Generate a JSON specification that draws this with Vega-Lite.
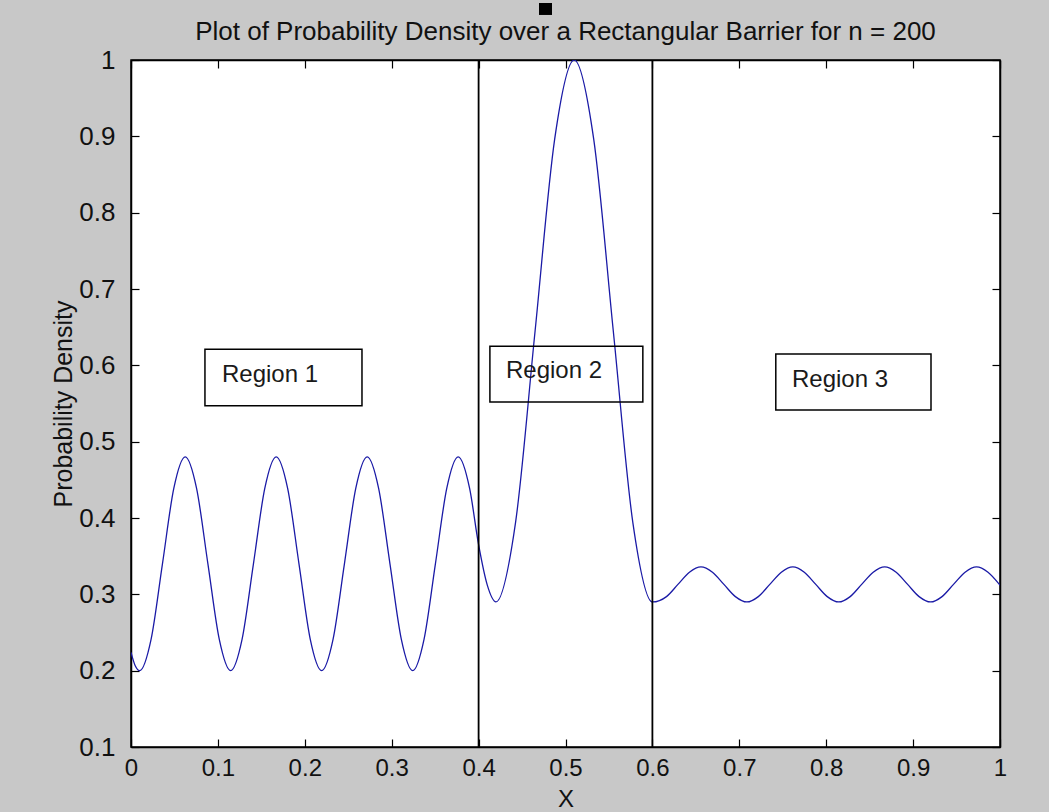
{
  "$schema": "https://vega.github.io/schema/vega-lite/v6.json",
  "width": 869,
  "height": 687,
  "autosize": {"type": "none"},
  "padding": {"left": 131, "top": 60, "right": 49, "bottom": 65},
  "background": "#c8c8c8",
  "view": {"fill": "white", "stroke": "black", "strokeWidth": 1.5},
  "config": {"font": "Liberation Sans"},
  "title": {"text": "Plot of Probability Density over a Rectangular Barrier for n = 200", "fontSize": 26, "fontWeight": "normal", "color": "#111111", "font": "Liberation Sans", "baseline": "alphabetic", "offset": -63, "anchor": "middle"},
  "datasets": {
    "curve": [
      {"x": 0, "y": 0.224}, {"x": 0.005, "y": 0.206}, {"x": 0.01, "y": 0.2}, {"x": 0.0231, "y": 0.241}, {"x": 0.0362, "y": 0.34}, {"x": 0.0493, "y": 0.439}, {"x": 0.0624, "y": 0.48}, {"x": 0.0754, "y": 0.439}, {"x": 0.0885, "y": 0.34}, {"x": 0.1016, "y": 0.241}, {"x": 0.1147, "y": 0.2}, {"x": 0.1278, "y": 0.241}, {"x": 0.1409, "y": 0.34}, {"x": 0.154, "y": 0.439}, {"x": 0.1671, "y": 0.48}, {"x": 0.1802, "y": 0.439}, {"x": 0.1933, "y": 0.34}, {"x": 0.2063, "y": 0.241}, {"x": 0.2194, "y": 0.2}, {"x": 0.2325, "y": 0.241}, {"x": 0.2456, "y": 0.34}, {"x": 0.2587, "y": 0.439}, {"x": 0.2718, "y": 0.48}, {"x": 0.2849, "y": 0.439}, {"x": 0.298, "y": 0.34}, {"x": 0.3111, "y": 0.241}, {"x": 0.3242, "y": 0.2}, {"x": 0.3372, "y": 0.241}, {"x": 0.3503, "y": 0.34}, {"x": 0.3634, "y": 0.439}, {"x": 0.3765, "y": 0.48}, {"x": 0.3896, "y": 0.439}, {"x": 0.4, "y": 0.365}, {"x": 0.41, "y": 0.312}, {"x": 0.42, "y": 0.29}, {"x": 0.4425, "y": 0.394}, {"x": 0.465, "y": 0.645}, {"x": 0.4875, "y": 0.896}, {"x": 0.51, "y": 1.0}, {"x": 0.5325, "y": 0.896}, {"x": 0.555, "y": 0.645}, {"x": 0.5775, "y": 0.394}, {"x": 0.6, "y": 0.29}, {"x": 0.6162, "y": 0.297}, {"x": 0.6294, "y": 0.313}, {"x": 0.6426, "y": 0.329}, {"x": 0.6559, "y": 0.336}, {"x": 0.6691, "y": 0.329}, {"x": 0.6823, "y": 0.313}, {"x": 0.6955, "y": 0.297}, {"x": 0.7087, "y": 0.29}, {"x": 0.7219, "y": 0.297}, {"x": 0.7351, "y": 0.313}, {"x": 0.7484, "y": 0.329}, {"x": 0.7616, "y": 0.336}, {"x": 0.7748, "y": 0.329}, {"x": 0.788, "y": 0.313}, {"x": 0.8012, "y": 0.297}, {"x": 0.8144, "y": 0.29}, {"x": 0.8276, "y": 0.297}, {"x": 0.8408, "y": 0.313}, {"x": 0.8541, "y": 0.329}, {"x": 0.8673, "y": 0.336}, {"x": 0.8805, "y": 0.329}, {"x": 0.8937, "y": 0.313}, {"x": 0.9069, "y": 0.297}, {"x": 0.9201, "y": 0.29}, {"x": 0.9333, "y": 0.297}, {"x": 0.9465, "y": 0.313}, {"x": 0.9598, "y": 0.329}, {"x": 0.973, "y": 0.336}, {"x": 0.9862, "y": 0.329}, {"x": 1.0, "y": 0.312}
    ],
    "barriers": [{"x": 0.4}, {"x": 0.6}],
    "boxes": [
      {"label": "Region 1", "x0": 0.0851, "x1": 0.2658, "y0": 0.547, "y1": 0.621, "tx": 0.1047, "ty": 0.587},
      {"label": "Region 2", "x0": 0.413, "x1": 0.589, "y0": 0.552, "y1": 0.625, "tx": 0.4315, "ty": 0.593},
      {"label": "Region 3", "x0": 0.742, "x1": 0.9206, "y0": 0.5415, "y1": 0.615, "tx": 0.7606, "ty": 0.581}
    ],
    "marker": [{"x0": 0.4695, "x1": 0.4845, "y0": 1.059, "y1": 1.0747}]
  },
  "layer": [
    {
      "data": {"name": "curve"},
      "mark": {"type": "line", "color": "#1a1aa6", "strokeWidth": 1.3, "interpolate": "monotone", "clip": true},
      "encoding": {
        "x": {"field": "x", "type": "quantitative", "scale": {"domain": [0, 1], "nice": false, "zero": false},
          "axis": {"orient": "bottom", "title": "X", "values": [0, 0.1, 0.2, 0.3, 0.4, 0.5, 0.6, 0.7, 0.8, 0.9, 1], "format": "~g", "grid": false, "tickSize": -8, "tickColor": "black", "tickWidth": 1.2, "domainColor": "black", "domainWidth": 1.5, "labelFontSize": 24, "labelColor": "#111111", "labelPadding": 17, "labelFlush": false, "labelOverlap": false, "titleFontSize": 24, "titleFontWeight": "normal", "titleColor": "#111111", "titlePadding": 7}},
        "y": {"field": "y", "type": "quantitative", "scale": {"domain": [0.1, 1], "nice": false, "zero": false},
          "axis": {"orient": "left", "title": "Probability Density", "values": [0.1, 0.2, 0.3, 0.4, 0.5, 0.6, 0.7, 0.8, 0.9, 1], "format": "~g", "grid": false, "tickSize": -8, "tickColor": "black", "tickWidth": 1.2, "domainColor": "black", "domainWidth": 1.5, "labelFontSize": 26, "labelColor": "#111111", "labelPadding": 24, "labelFlush": false, "labelOverlap": false, "titleFontSize": 25, "titleFontWeight": "normal", "titleColor": "#111111", "titlePadding": 2}}
      }
    },
    {
      "data": {"name": "curve"},
      "mark": {"type": "line", "opacity": 0},
      "encoding": {
        "x": {"field": "x", "type": "quantitative", "scale": {"domain": [0, 1], "nice": false, "zero": false},
          "axis": {"orient": "top", "title": null, "labels": false, "values": [0, 0.1, 0.2, 0.3, 0.4, 0.5, 0.6, 0.7, 0.8, 0.9, 1], "grid": false, "tickSize": -8, "tickColor": "black", "tickWidth": 1.2, "domainColor": "black", "domainWidth": 1.5}},
        "y": {"field": "y", "type": "quantitative", "scale": {"domain": [0.1, 1], "nice": false, "zero": false},
          "axis": {"orient": "right", "title": null, "labels": false, "values": [0.1, 0.2, 0.3, 0.4, 0.5, 0.6, 0.7, 0.8, 0.9, 1], "grid": false, "tickSize": -8, "tickColor": "black", "tickWidth": 1.2, "domainColor": "black", "domainWidth": 1.5}}
      }
    },
    {
      "data": {"name": "barriers"},
      "mark": {"type": "rule", "color": "black", "strokeWidth": 1.8},
      "encoding": {"x": {"field": "x", "type": "quantitative", "axis": null}}
    },
    {
      "data": {"name": "boxes"},
      "mark": {"type": "rect", "fill": null, "fillOpacity": 0, "stroke": "black", "strokeWidth": 1.5},
      "encoding": {
        "x": {"field": "x0", "type": "quantitative", "axis": null},
        "x2": {"field": "x1"},
        "y": {"field": "y0", "type": "quantitative", "axis": null},
        "y2": {"field": "y1"}
      }
    },
    {
      "data": {"name": "boxes"},
      "mark": {"type": "text", "align": "left", "baseline": "middle", "fontSize": 24, "color": "#1a1a1a", "font": "Liberation Sans"},
      "encoding": {
        "x": {"field": "tx", "type": "quantitative", "axis": null},
        "y": {"field": "ty", "type": "quantitative", "axis": null},
        "text": {"field": "label"}
      }
    },
    {
      "data": {"name": "marker"},
      "mark": {"type": "rect", "color": "black", "clip": false},
      "encoding": {
        "x": {"field": "x0", "type": "quantitative", "axis": null},
        "x2": {"field": "x1"},
        "y": {"field": "y0", "type": "quantitative", "axis": null},
        "y2": {"field": "y1"}
      }
    }
  ],
  "resolve": {"axis": {"x": "independent", "y": "independent"}}
}
